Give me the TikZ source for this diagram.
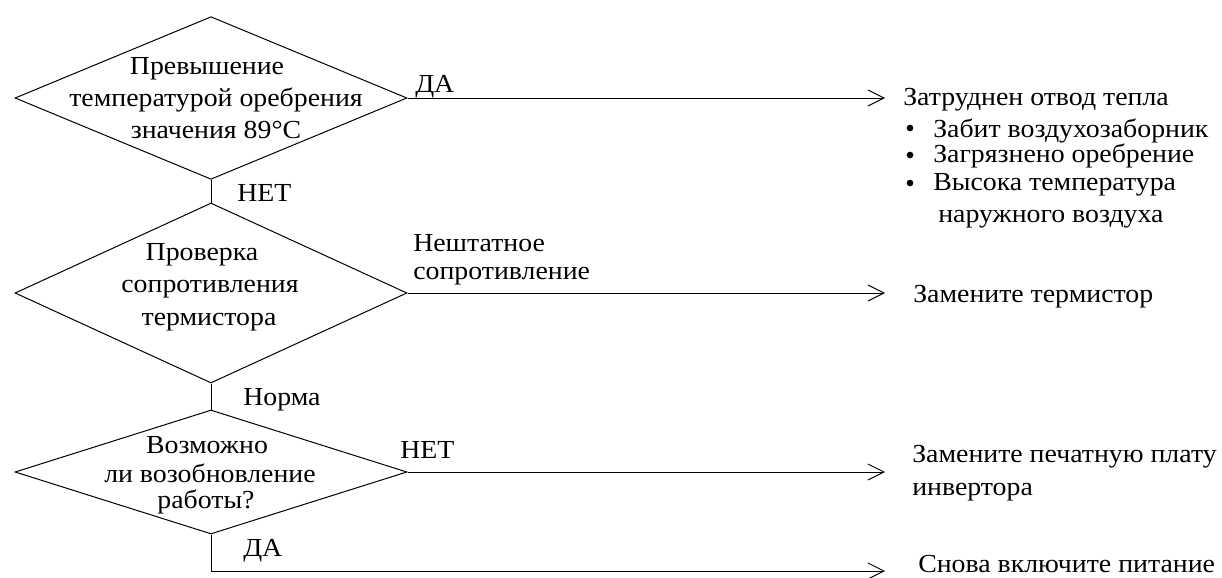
\documentclass[tikz,border=0pt]{standalone}
\usepackage{fontspec}
\setmainfont[FakeStretch=1.07]{Liberation Serif}
\usetikzlibrary{arrows.meta,shapes.geometric}
\begin{document}
\begin{tikzpicture}[x=0.75pt,y=-0.75pt,
  txt/.style={inner sep=0pt, font=\fontsize{19.5pt}{24pt}\selectfont},
  ctr/.style={txt, anchor=base},
  lft/.style={txt, anchor=base west},
  dec/.style={shape=diamond, draw, line width=0.75pt, inner sep=0pt, minimum width=294pt},
  flow/.style={draw, line width=0.75pt},
  arr/.style={flow, -{Straight Barb[length=12pt,width=12pt,line width=0.75pt]}},
  blt/.style={circle, fill, inner sep=0pt, minimum size=5pt}
]
\useasboundingbox (0,0) rectangle (1222,578);

% decisions
\node[dec, minimum height=122pt] (d1) at (211,98) {};
\node[dec, minimum height=135pt] (d2) at (211,293) {};
\node[dec, minimum height=93pt] (d3) at (211,472) {};

% decision texts
\node[ctr] (t1a) at (207,74) {Превышение};
\node[ctr] (t1b) at (216,106) {температурой оребрения};
\node[ctr] (t1c) at (216,138) {значения 89°C};
\node[ctr] (t2a) at (202,260) {Проверка};
\node[ctr] (t2b) at (210,292) {сопротивления};
\node[ctr] (t2c) at (209,325) {термистора};
\node[ctr] (t3a) at (207,453) {Возможно};
\node[ctr] (t3b) at (210,482) {ли возобновление};
\node[ctr] (t3c) at (206,508) {работы?};

% end points of arrows
\coordinate (e1) at (885,98);
\coordinate (e2) at (885,293);
\coordinate (e3) at (885,472);
\coordinate (e4) at (885,571);

% connectors
\draw[flow] (d1.south) -- (d2.north);
\draw[flow] (d2.south) -- (d3.north);
\draw[arr] (d1.east) -- (e1);
\draw[arr] (d2.east) -- (e2);
\draw[arr] (d3.east) -- (e3);
\draw[arr] (d3.south) |- (e4);

% connector labels
\node[lft] (l1) at (415,92) {ДА};
\node[lft] (l2) at (237,201) {НЕТ};
\node[lft] (l3a) at (413,251) {Нештатное};
\node[lft] (l3b) at (413,279) {сопротивление};
\node[lft] (l4) at (243,405) {Норма};
\node[lft] (l5) at (400,458) {НЕТ};
\node[lft] (l6) at (243,556) {ДА};

% outcomes
\node[lft] (o1) at (903,105) {Затруднен отвод тепла};
\node[blt] (b1) at (910,128) {};
\node[blt] (b2) at (910,155) {};
\node[blt] (b3) at (910,183) {};
\node[lft] (o1a) at (933,137) {Забит воздухозаборник};
\node[lft] (o1b) at (933,162) {Загрязнено оребрение};
\node[lft] (o1c) at (933,190) {Высока температура};
\node[lft] (o1d) at (938,222) {наружного воздуха};
\node[lft] (o2) at (913,302) {Замените термистор};
\node[lft] (o3a) at (912,462) {Замените печатную плату};
\node[lft] (o3b) at (912,495) {инвертора};
\node[lft] (o4) at (918,572) {Снова включите питание};
\end{tikzpicture}
\end{document}
